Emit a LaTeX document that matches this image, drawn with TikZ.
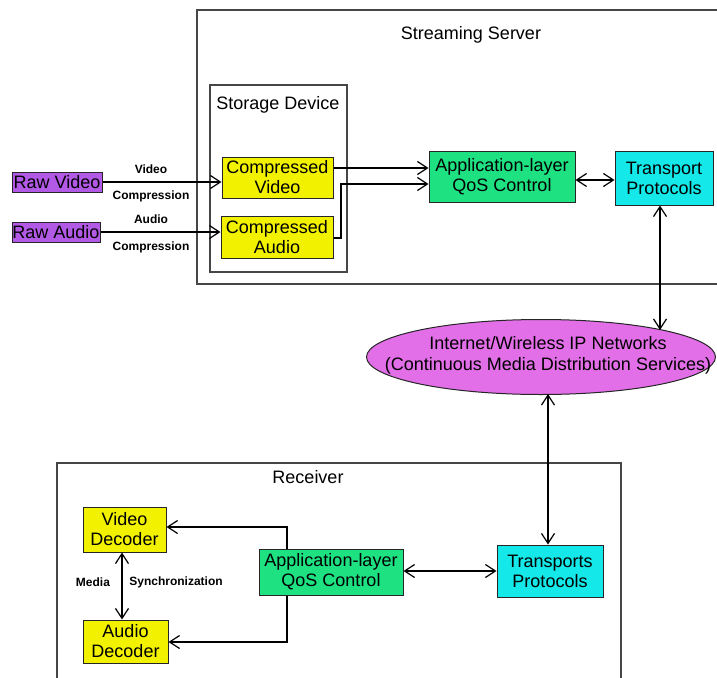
\documentclass[tikz,border=0pt]{standalone}
\usepackage{fontspec}
\setmainfont{Liberation Sans}
\usetikzlibrary{arrows.meta,shapes.geometric}
\definecolor{rawpurple}{RGB}{178,90,230}
\definecolor{storeyellow}{RGB}{242,242,0}
\definecolor{qosgreen}{RGB}{30,226,130}
\definecolor{transcyan}{RGB}{20,232,232}
\definecolor{netpink}{RGB}{226,110,232}
\definecolor{framegray}{RGB}{70,70,70}
\tikzset{
  >={Straight Barb[length=10pt,width=13pt]},
  frame/.style={draw=framegray,line width=1.3pt},
  block/.style={draw=black!85,line width=1pt,inner sep=0pt,align=center,
    font=\fontsize{18}{20}\selectfont},
  rawbox/.style={block,fill=rawpurple},
  storebox/.style={block,fill=storeyellow},
  qosbox/.style={block,fill=qosgreen},
  transbox/.style={block,fill=transcyan},
  cloud/.style={ellipse,draw=black!85,line width=1pt,fill=netpink,inner sep=0pt},
  cloudtext/.style={align=center,inner sep=0pt,font=\fontsize{18}{21}\selectfont},
  title/.style={font=\fontsize{18}{20}\selectfont},
  small/.style={font=\bfseries\fontsize{12}{14}\selectfont},
  link/.style={line width=1.2pt,black}
}
\begin{document}
\begin{tikzpicture}[x=1pt,y=-1pt]
\useasboundingbox (0,0) rectangle (717,677);
\fill[white] (0,0) rectangle (717,677);

% container frames
\draw[frame] (724,10) -- (197,10) -- (197,284) -- (724,284);
\node[title] (srvtitle) at (471,35) {Streaming Server};
\draw[frame] (210,85) rectangle (347,272);
\node[title] (stotitle) at (278,105) {Storage Device};
\draw[frame] (57,682) -- (57,463) -- (621,463) -- (621,682);
\node[title] (rcvtitle) at (308,477) {Receiver};

% sources
\node[rawbox,minimum width=90,minimum height=20] (rv) at (57,182) {Raw Video};
\node[rawbox,minimum width=88,minimum height=20] (ra) at (56,232) {Raw Audio};
\node[small] (lv1) at (151,169) {Video};
\node[small] (lv2) at (151,196) {Compression};
\node[small] (la1) at (151,219) {Audio};
\node[small] (la2) at (151,247) {Compression};

% storage
\node[storebox,minimum width=111,minimum height=41] (cv) at (277.5,177.5) {Compressed\\Video};
\node[storebox,minimum width=112,minimum height=42] (ca) at (277,237) {Compressed\\Audio};

% server-side control and transport
\node[qosbox,minimum width=146,minimum height=51] (sq) at (502,176.5) {Application-layer\\QoS Control};
\node[transbox,minimum width=98,minimum height=54] (st) at (664,178) {Transport\\Protocols};

% network
\node[cloud,minimum width=349,minimum height=75] (net) at (541,357) {};
\node[cloudtext] (nettext) at (548,355)
  {Internet/Wireless IP Networks\\(Continuous Media Distribution Services)};

% receiver side
\node[qosbox,minimum width=144,minimum height=46] (rq) at (331,572) {Application-layer\\QoS Control};
\node[transbox,minimum width=106,minimum height=52] (rt) at (550,571) {Transports\\Protocols};
\node[storebox,minimum width=83,minimum height=45] (vd) at (124.5,529.5) {Video\\Decoder};
\node[storebox,minimum width=85,minimum height=43] (ad) at (125.5,641.5) {Audio\\Decoder};
\node[small] (lm) at (93,582) {Media};
\node[small] (ls) at (176,582) {Synchronization};

% coordinates for bends
\coordinate (cabend) at (341,238);
\coordinate (sqin) at (sq.west |- 0,184);

% connectors
\draw[link,->] (rv.east) -- (rv.east -| cv.west);
\draw[link,->] (ra.east) -- (ra.east -| ca.west);
\draw[link,->] (cv.east |- 0,168) -- (sq.west |- 0,168);
\draw[link,->] (ca.east |- cabend) -- (cabend) |- (sqin);
\draw[link,<->] (sq.east |- 0,180) -- (st.west |- 0,180);
\draw[link,<->] (st.south -| 660,0) -- (660,330);
\draw[link,<->] (548,394) -- (rt.north -| 548,0);
\draw[link,<->] (rq.east |- 0,571) -- (rt.west |- 0,571);
\draw[link,->] (rq.north -| 287,0) |- (vd.east |- 0,527);
\draw[link,->] (rq.south -| 287,0) |- (ad.east |- 0,642);
\draw[link,<->] (vd.south -| 122,0) -- (ad.north -| 122,0);
\end{tikzpicture}
\end{document}
